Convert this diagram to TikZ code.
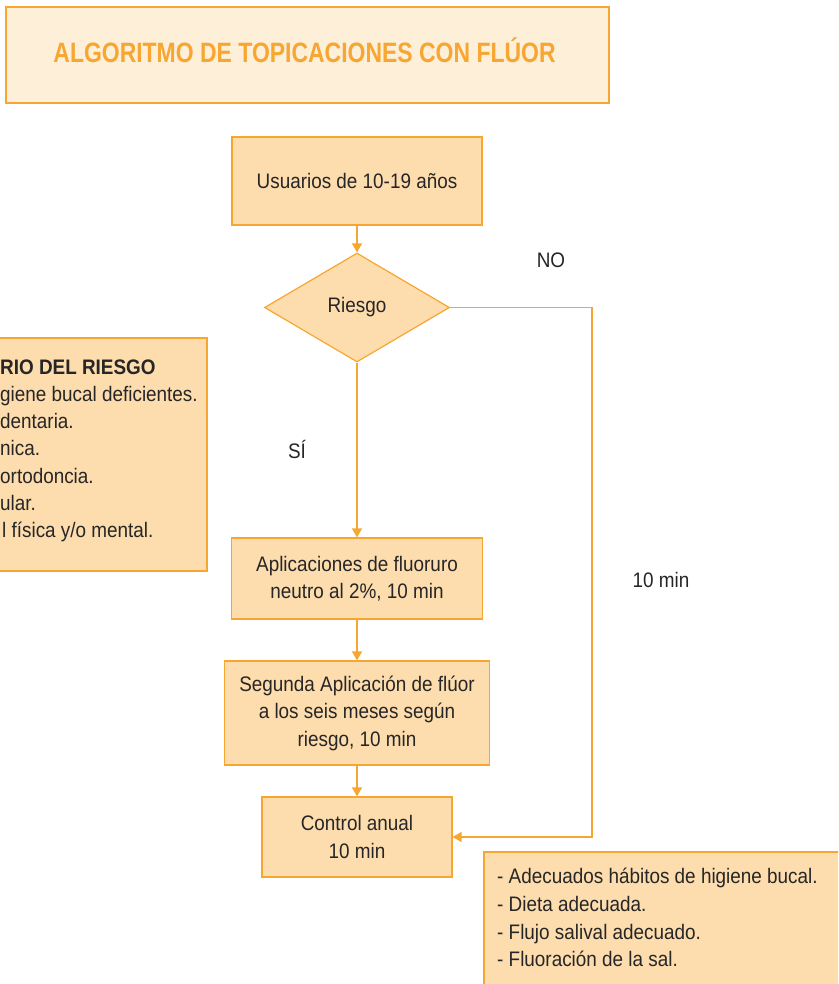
\documentclass[tikz,border=0pt]{standalone}
\usepackage{fontspec}
\setmainfont{Liberation Sans}[FakeStretch=0.9]
\newfontfamily\titlefont{Liberation Sans}[FakeStretch=0.82]
\usetikzlibrary{shapes.geometric,arrows.meta}
\definecolor{ora}{HTML}{F7A631}
\definecolor{peach}{HTML}{FDDCAE}
\definecolor{cream}{HTML}{FEEFD9}
\definecolor{ink}{HTML}{262626}
\begin{document}
\begin{tikzpicture}[x=1pt,y=-1pt,
  every node/.style={font=\fontsize{21}{27.5}\selectfont, text=ink},
  box/.style={draw=ora, fill=peach, line width=1.2pt, inner sep=0pt, align=center},
  lbl/.style={inner sep=0pt},
  conn/.style={draw=ora, line width=1.3pt, -{Triangle[width=10pt,length=9pt]}},
  plain/.style={draw=ora, line width=1.3pt}]
\useasboundingbox (0,0) rectangle (838,984);
\clip (0,0) rectangle (838,984);
\fill[white] (0,0) rectangle (838,984);

% title
\node[draw=ora, fill=cream, line width=1.2pt, minimum width=603pt, minimum height=96pt, inner sep=0pt] (title) at (307.5,55) {};
\node[lbl, anchor=base, font=\titlefont\bfseries\fontsize{28}{32}\selectfont, text=ora] (ttext) at (304.5,63) {ALGORITMO DE TOPICACIONES CON FLÚOR};

% flow
\node[box, minimum width=250pt, minimum height=88pt] (usr) at (357,181) {Usuarios de 10-19 años};
\node[box, diamond, minimum width=185pt, minimum height=109pt, aspect=1.7] (ries) at (357,307.5) {Riesgo};
\node[box, minimum width=251pt, minimum height=81pt] (apl) at (357,578.5) {Aplicaciones de fluoruro\\neutro al 2\%, 10 min};
\node[box, minimum width=265pt, minimum height=104pt] (seg) at (357,713) {Segunda Aplicación de flúor\\a los seis meses según\\riesgo, 10 min};
\node[box, minimum width=190pt, minimum height=80pt] (ctl) at (357,837) {Control anual\\10 min};

\coordinate (turn) at (592,307.5);
\draw[conn] (usr) -- (ries);
\draw[conn] (ries) -- (apl);
\draw[conn] (apl) -- (seg);
\draw[conn] (seg) -- (ctl);
\draw[conn] (ries.east) -- (turn) |- (ctl.east);

% labels
\node[lbl, anchor=base] (no) at (551,267) {NO};
\node[lbl, anchor=base] (si) at (297,458) {SÍ};
\node[lbl, anchor=base] (tm) at (661,587) {10 min};

% left box (cut off)
\node[box, minimum width=222pt, minimum height=233pt] (crit) at (96,454.5) {};
\node[lbl, anchor=base west, font=\bfseries\fontsize{21}{27}\selectfont] (c0) at (0,374) {RIO DEL RIESGO};
\node[lbl, anchor=base west] (c1) at (0,401) {giene bucal deficientes.};
\node[lbl, anchor=base west] (c2) at (0,428) {dentaria.};
\node[lbl, anchor=base west] (c3) at (0,455) {nica.};
\node[lbl, anchor=base west] (c4) at (0,483) {ortodoncia.};
\node[lbl, anchor=base west] (c5) at (0,510) {ular.};
\node[lbl, anchor=base west] (c6) at (2,537) {l física y/o mental.};

% right box (cut off)
\node[box, minimum width=366pt, minimum height=148pt] (prot) at (667,926) {};
\node[lbl, anchor=base west] (p1) at (497,883) {- Adecuados hábitos de higiene bucal.};
\node[lbl, anchor=base west] (p2) at (497,911) {- Dieta adecuada.};
\node[lbl, anchor=base west] (p3) at (497,939) {- Flujo salival adecuado.};
\node[lbl, anchor=base west] (p4) at (497,966) {- Fluoración de la sal.};
\end{tikzpicture}
\end{document}
